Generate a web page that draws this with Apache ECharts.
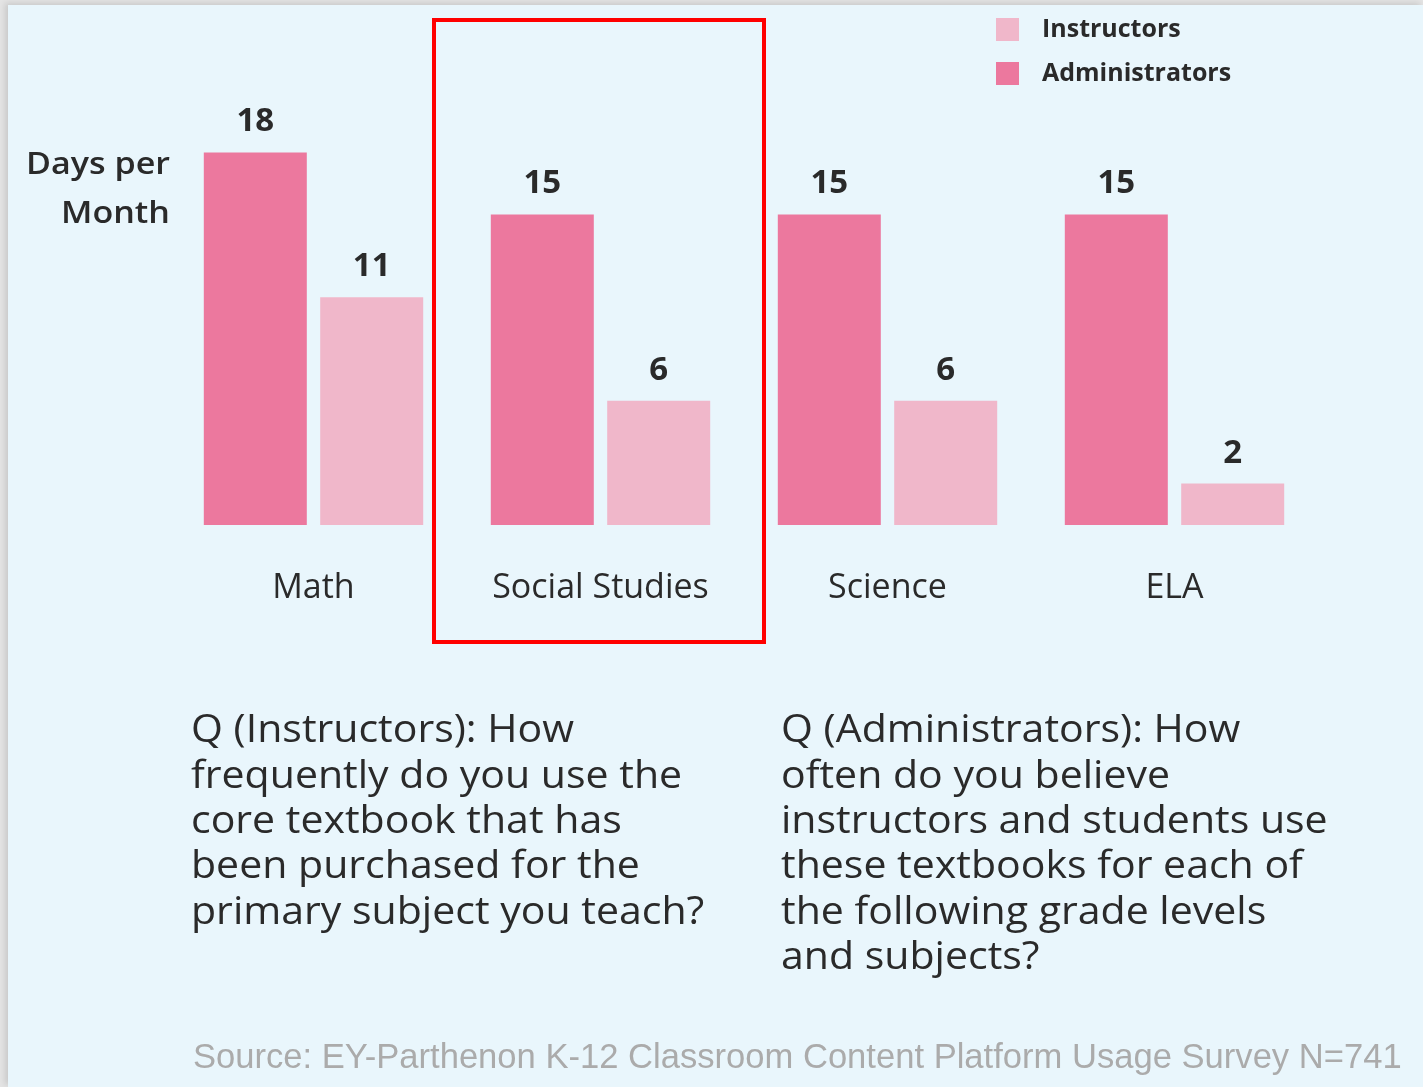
<!DOCTYPE html>
<html><head><meta charset="utf-8">
<script src="https://cdn.jsdelivr.net/npm/echarts@6/dist/echarts.min.js"></script>
<style>
html,body{margin:0;padding:0;width:1423px;height:1087px;overflow:hidden;background:#e4e4e4;}
#bg{position:absolute;left:8px;top:5px;width:1415px;height:1082px;background:#e9f6fc;box-shadow:-3px -2px 6px rgba(0,0,0,0.12);}
#chart{position:absolute;left:0;top:0;width:1423px;height:1087px;}
</style></head>
<body><div id="bg"></div><div id="chart"></div>
<script>
var categories = ['Math', 'Social Studies', 'Science', 'ELA'];
var administrators = [18, 15, 15, 15];
var instructors = [11, 6, 6, 2];
var yAxisTitle = ['Days per', 'Month'];
var questionInstructors = ['Q (Instructors): How', 'frequently do you use the', 'core textbook that has', 'been purchased for the', 'primary subject you teach?'];
var questionAdministrators = ['Q (Administrators): How', 'often do you believe', 'instructors and students use', 'these textbooks for each of', 'the following grade levels', 'and subjects?'];
var sourceText = 'Source: EY-Parthenon K-12 Classroom Content Platform Usage Survey N=741';

var FONT = '"Open Sans", Lato, sans-serif';
var chart = echarts.init(document.getElementById('chart'));
var labelStyle = {show: true, position: 'top', distance: 14, color: '#2a2a2a', fontSize: 33, fontWeight: 'bold', fontFamily: FONT};
chart.setOption({
  backgroundColor: 'transparent',
  animation: false,
  legend: {
    orient: 'vertical', left: 991, top: 12, itemWidth: 23, itemHeight: 23, itemGap: 19,
    icon: 'rect',
    data: ['Instructors', 'Administrators'],
    textStyle: {fontSize: 25, color: '#2a2a2a', fontFamily: FONT, fontWeight: 'bold', padding: [0, 0, 0, 18]}
  },
  grid: {left: 170, width: 1148, top: 111, bottom: 1087 - 525, containLabel: false},
  xAxis: {
    type: 'category', data: categories,
    axisLine: {show: false}, axisTick: {show: false},
    axisLabel: {interval: 0, hideOverlap: false, margin: 46, fontSize: 34, color: '#2a2a2a', fontFamily: FONT}
  },
  yAxis: {type: 'value', min: 0, max: 20, show: false, splitLine: {show: false}},
  series: [
    {name: 'Administrators', type: 'bar', data: administrators, barWidth: 103, barGap: '13%',
     itemStyle: {color: '#ec789e'}, label: labelStyle},
    {name: 'Instructors', type: 'bar', data: instructors, barWidth: 103,
     itemStyle: {color: '#f0b7ca'}, label: labelStyle}
  ],
  graphic: [
    {type: 'text', x: 170, y: 141, scaleX: 1.1, style: {x: 0, y: 0, text: yAxisTitle.join('\n'), fill: '#2a2a2a', font: '600 31px ' + FONT, textAlign: 'right', textVerticalAlign: 'top', lineHeight: 49}},
    {type: 'rect', shape: {x: 434, y: 20, width: 330, height: 622}, style: {fill: 'none', stroke: '#ff0000', lineWidth: 4}},
    {type: 'text', x: 191, y: 709, scaleX: 1.08, style: {x: 0, y: 0, text: questionInstructors.join('\n'), fill: '#2a2a2a', font: '38px ' + FONT, textVerticalAlign: 'top', lineHeight: 45.3}},
    {type: 'text', x: 781, y: 709, scaleX: 1.08, style: {x: 0, y: 0, text: questionAdministrators.join('\n'), fill: '#2a2a2a', font: '38px ' + FONT, textVerticalAlign: 'top', lineHeight: 45.3}},
    {type: 'text', left: 193, top: 1041, style: {text: sourceText, fill: '#ababab', font: '34.6px "Liberation Sans", sans-serif'}}
  ]
});
</script></body></html>
